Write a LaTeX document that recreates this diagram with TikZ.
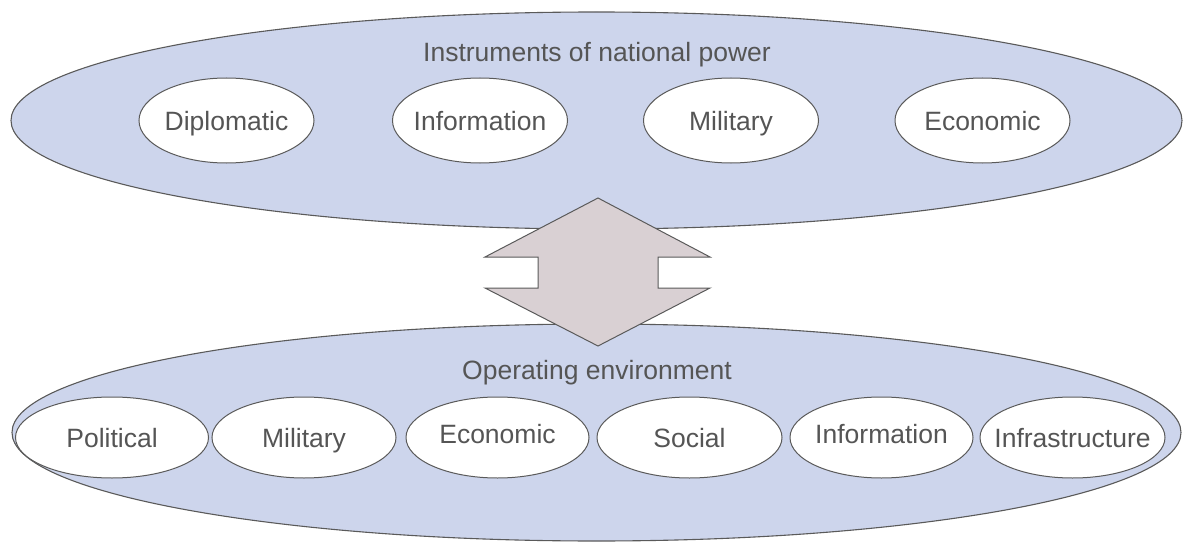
\documentclass[tikz,border=0pt]{standalone}
\usepackage{fontspec}
\setmainfont{Liberation Sans}
\usetikzlibrary{shapes.geometric}
\definecolor{bigfill}{RGB}{205,213,236}
\definecolor{arrowfill}{RGB}{217,208,211}
\definecolor{edgec}{RGB}{90,90,90}
\definecolor{txt}{RGB}{85,85,85}
\begin{document}
\begin{tikzpicture}[x=1pt,y=-1pt,
  outer/.style={ellipse, draw=edgec, fill=bigfill, line width=1.1pt, inner sep=0pt},
  inner/.style={ellipse, draw=edgec, fill=white, line width=1pt, inner sep=0pt},
  topin/.style={inner, minimum width=175pt, minimum height=85pt},
  botin/.style={inner, minimum height=81pt},
  lbl/.style={text=txt, font=\fontsize{26.5}{30}\selectfont, inner sep=0pt, text height=19pt, text depth=0pt},
  arrowshape/.style={draw=edgec, fill=arrowfill, line width=1pt, line join=miter}]
\useasboundingbox (0,0) rectangle (1184,543);
% big ellipses
\node[outer, minimum width=1171pt, minimum height=217pt] (power) at (596.5,120.5) {};
\node[outer, minimum width=1169pt, minimum height=217pt] (env) at (596.5,432.5) {};
% double arrow
\draw[arrowshape] (598,198) -- (710,257) -- (658,257) -- (658,288) -- (710,288)
  -- (598,346) -- (485,288) -- (538,288) -- (538,257) -- (485,257) -- cycle;
% titles
\node[lbl] (powert) at (597,52) {Instruments of national power};
\node[lbl] (envt) at (597,370) {Operating environment};
% top row
\node[topin] (dip) at (226.5,120.5) {};
\node[topin] (inf) at (480,120.5) {};
\node[topin] (mil) at (731,120.5) {};
\node[topin] (eco) at (982.5,120.5) {};
\node[lbl] at (dip) {Diplomatic};
\node[lbl] at (inf) {Information};
\node[lbl] at (mil) {Military};
\node[lbl] at (eco) {Economic};
% bottom row
\node[botin, minimum width=193pt] (pol) at (112,437.5) {};
\node[botin, minimum width=184pt] (bmil) at (304,437.5) {};
\node[botin, minimum width=183pt] (beco) at (497.5,437.5) {};
\node[botin, minimum width=185pt] (soc) at (689.5,437.5) {};
\node[botin, minimum width=183pt] (binf) at (881.5,437.5) {};
\node[botin, minimum width=185pt] (infra) at (1072.5,437.5) {};
\node[lbl] at (pol) {Political};
\node[lbl] at (bmil) {Military};
\node[lbl] at ([yshift=4pt]beco.center) {Economic};
\node[lbl] at (soc) {Social};
\node[lbl] at ([yshift=4pt]binf.center) {Information};
\node[lbl] at (infra) {Infrastructure};
\end{tikzpicture}
\end{document}
